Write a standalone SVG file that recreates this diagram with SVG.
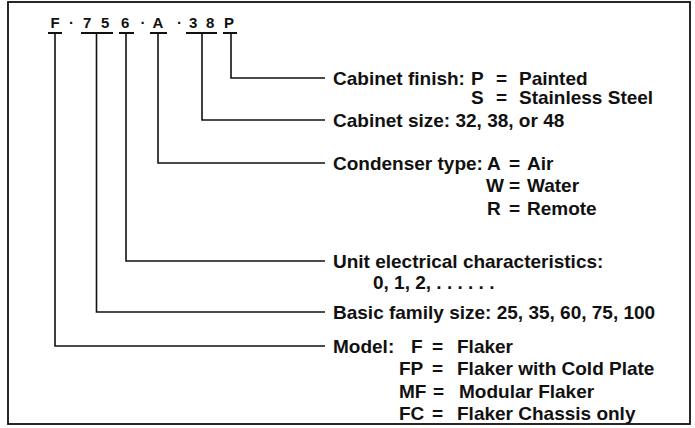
<svg xmlns="http://www.w3.org/2000/svg" width="695" height="428" viewBox="0 0 695 428">
<style>
.t{font-family:"Liberation Sans",Arial,Helvetica,sans-serif;font-size:19px;font-weight:bold;fill:#111}
.c{font-family:"Liberation Sans",Arial,Helvetica,sans-serif;font-size:15px;font-weight:bold;fill:#111}
.ln{fill:none;stroke:#111;stroke-width:1.6}
.ul{fill:none;stroke:#111;stroke-width:2}
</style>
<rect x="0" y="0" width="695" height="428" fill="#fff"/>
<rect x="8" y="2" width="682" height="422" fill="none" stroke="#111" stroke-width="1.8"/>
<g id="code">
<text class="c" x="50.5" y="28">F</text>
<text class="c" x="69" y="28">·</text>
<text class="c" x="83" y="28">7</text>
<text class="c" x="101" y="28">5</text>
<text class="c" x="121" y="28">6</text>
<text class="c" x="140.5" y="28">·</text>
<text class="c" x="152.5" y="28">A</text>
<text class="c" x="177" y="28">·</text>
<text class="c" x="189" y="28">3</text>
<text class="c" x="206" y="28">8</text>
<text class="c" x="224" y="28">P</text>
</g>
<g id="connectors">
<path class="ul" d="M48,33H62 M81,33H113 M119,33H134 M150,33H167 M186,33H217 M223,33H237"/>
<path class="ln" d="M231,33V78H325"/>
<path class="ln" d="M202,33V120H325"/>
<path class="ln" d="M158,33V163H325"/>
<path class="ln" d="M126,33V261H325"/>
<path class="ln" d="M96.5,33V312H325"/>
<path class="ln" d="M55,33V346H325"/>
</g>
<g id="cabinet-finish">
<text class="t" x="333" y="84.5">Cabinet finish:</text>
<text class="t" x="471" y="84.5">P</text>
<text class="t" x="496" y="84.5">=</text>
<text class="t" x="519" y="84.5">Painted</text>
<text class="t" x="471" y="104">S</text>
<text class="t" x="496" y="104">=</text>
<text class="t" x="519" y="104">Stainless Steel</text>
</g>
<g id="cabinet-size">
<text class="t" x="333" y="126.5">Cabinet size: 32, 38, or 48</text>
</g>
<g id="condenser-type">
<text class="t" x="333" y="169.5">Condenser type:</text>
<text class="t" x="487" y="169.5">A</text>
<text class="t" x="509" y="169.5">=</text>
<text class="t" x="527" y="169.5">Air</text>
<text class="t" x="486" y="192">W</text>
<text class="t" x="509" y="192">=</text>
<text class="t" x="527" y="192">Water</text>
<text class="t" x="487" y="214.5">R</text>
<text class="t" x="509" y="214.5">=</text>
<text class="t" x="527" y="214.5">Remote</text>
</g>
<g id="electrical">
<text class="t" x="333" y="267.5">Unit electrical characteristics:</text>
<text class="t" x="373" y="289">0, 1, 2, . . . . . .</text>
</g>
<g id="family-size">
<text class="t" x="333" y="318.5">Basic family size: 25, 35, 60, 75, 100</text>
</g>
<g id="model">
<text class="t" x="333" y="352.5">Model:</text>
<text class="t" x="411" y="352.5">F</text>
<text class="t" x="432" y="352.5">=</text>
<text class="t" x="457" y="352.5">Flaker</text>
<text class="t" x="399" y="375">FP</text>
<text class="t" x="432" y="375">=</text>
<text class="t" x="457" y="375">Flaker with Cold Plate</text>
<text class="t" x="399" y="397.5">MF</text>
<text class="t" x="433" y="397.5">=</text>
<text class="t" x="459" y="397.5">Modular Flaker</text>
<text class="t" x="399" y="420">FC</text>
<text class="t" x="432" y="420">=</text>
<text class="t" x="457" y="420">Flaker Chassis only</text>
</g>
</svg>
